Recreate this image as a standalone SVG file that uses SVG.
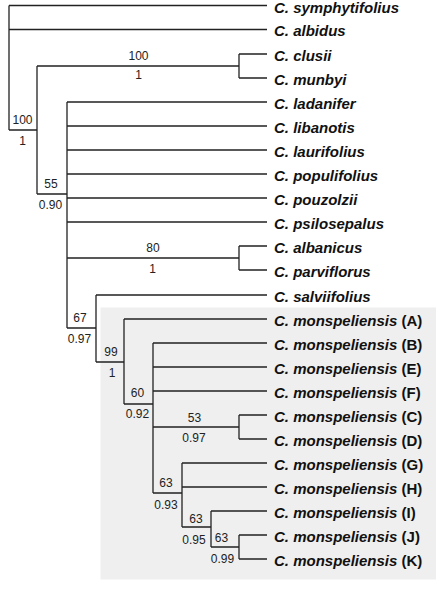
<svg xmlns="http://www.w3.org/2000/svg" width="448" height="590" viewBox="0 0 448 590">
<style>
.e{fill:none;stroke:#222;stroke-width:1.3}
.t{font-family:"Liberation Sans",Arial,sans-serif;font-size:15px;font-weight:bold;font-style:italic;fill:#111}
.u{font-style:normal}
.l{font-family:"Liberation Sans",Arial,sans-serif;font-size:12px;fill:#222;text-anchor:middle}
</style>
<rect x="100.5" y="307.5" width="335.5" height="272" fill="#efefef"/>
<g id="connectors" class="e">
<path d="M9 5.5V130M9 5.5H267M9 29.5H267M9 130H37"/>
<path d="M37 66V194M37 66H239M37 194H67"/>
<path d="M239 54V78M239 54H267M239 78H267"/>
<path d="M67 102V328M67 102H267M67 126H267M67 150H267M67 174H267M67 198H267M67 222H267M67 258H239M67 328H96"/>
<path d="M239 246V270M239 246H267M239 270H267"/>
<path d="M96 295V362M96 295H267M96 362H124"/>
<path d="M124 319V404M124 319H267M124 404H153"/>
<path d="M153 343V493M153 343H267M153 367H267M153 391H267M153 427H239M153 493H182"/>
<path d="M239 415V439M239 415H267M239 439H267"/>
<path d="M182 463V527M182 463H267M182 487H267M182 527H211"/>
<path d="M211 511V547M211 511H267M211 547H239"/>
<path d="M239 535V559M239 535H267M239 559H267"/>
</g>
<g id="n_root"><text class="l" x="22.5" y="124">100</text><text class="l" x="22.5" y="145">1</text></g>
<g id="n_clusii_munbyi"><text class="l" x="138.5" y="59.5">100</text><text class="l" x="138.5" y="79">1</text></g>
<g id="n_55"><text class="l" x="51" y="188">55</text><text class="l" x="50.5" y="209">0.90</text></g>
<g id="n_albanicus_parviflorus"><text class="l" x="153" y="252">80</text><text class="l" x="152.5" y="273">1</text></g>
<g id="n_67"><text class="l" x="80" y="322">67</text><text class="l" x="79.5" y="343">0.97</text></g>
<g id="n_99"><text class="l" x="111" y="356">99</text><text class="l" x="112" y="377">1</text></g>
<g id="n_60"><text class="l" x="137.5" y="397">60</text><text class="l" x="137.5" y="418">0.92</text></g>
<g id="n_CD"><text class="l" x="194.5" y="422">53</text><text class="l" x="194" y="442">0.97</text></g>
<g id="n_63a"><text class="l" x="166" y="487">63</text><text class="l" x="166" y="509">0.93</text></g>
<g id="n_63b"><text class="l" x="196" y="523">63</text><text class="l" x="194" y="544">0.95</text></g>
<g id="n_63c"><text class="l" x="221.5" y="542">63</text><text class="l" x="222.5" y="563">0.99</text></g>
<g id="t_symphytifolius"><text class="t" x="274" y="12.5">C. symphytifolius</text></g>
<g id="t_albidus"><text class="t" x="274" y="36">C. albidus</text></g>
<g id="t_clusii"><text class="t" x="274" y="60.5">C. clusii</text></g>
<g id="t_munbyi"><text class="t" x="274" y="84.5">C. munbyi</text></g>
<g id="t_ladanifer"><text class="t" x="274" y="108.5">C. ladanifer</text></g>
<g id="t_libanotis"><text class="t" x="274" y="132.5">C. libanotis</text></g>
<g id="t_laurifolius"><text class="t" x="274" y="156.5">C. laurifolius</text></g>
<g id="t_populifolius"><text class="t" x="274" y="180.5">C. populifolius</text></g>
<g id="t_pouzolzii"><text class="t" x="274" y="204.5">C. pouzolzii</text></g>
<g id="t_psilosepalus"><text class="t" x="274" y="228.5">C. psilosepalus</text></g>
<g id="t_albanicus"><text class="t" x="274" y="252.5">C. albanicus</text></g>
<g id="t_parviflorus"><text class="t" x="274" y="276.5">C. parviflorus</text></g>
<g id="t_salviifolius"><text class="t" x="274" y="301.5">C. salviifolius</text></g>
<g id="t_A"><text class="t" x="274" y="325.5">C. monspeliensis <tspan class="u">(A)</tspan></text></g>
<g id="t_B"><text class="t" x="274" y="349.5">C. monspeliensis <tspan class="u">(B)</tspan></text></g>
<g id="t_E"><text class="t" x="274" y="373.5">C. monspeliensis <tspan class="u">(E)</tspan></text></g>
<g id="t_F"><text class="t" x="274" y="397.5">C. monspeliensis <tspan class="u">(F)</tspan></text></g>
<g id="t_C"><text class="t" x="274" y="421.5">C. monspeliensis <tspan class="u">(C)</tspan></text></g>
<g id="t_D"><text class="t" x="274" y="445.5">C. monspeliensis <tspan class="u">(D)</tspan></text></g>
<g id="t_G"><text class="t" x="274" y="469.5">C. monspeliensis <tspan class="u">(G)</tspan></text></g>
<g id="t_H"><text class="t" x="274" y="493.5">C. monspeliensis <tspan class="u">(H)</tspan></text></g>
<g id="t_I"><text class="t" x="274" y="517.5">C. monspeliensis <tspan class="u">(I)</tspan></text></g>
<g id="t_J"><text class="t" x="274" y="541.5">C. monspeliensis <tspan class="u">(J)</tspan></text></g>
<g id="t_K"><text class="t" x="274" y="565.5">C. monspeliensis <tspan class="u">(K)</tspan></text></g>
</svg>
